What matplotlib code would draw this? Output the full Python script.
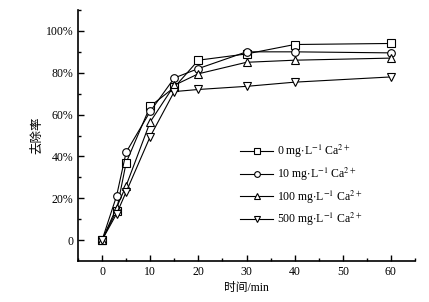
import numpy as np
import matplotlib
matplotlib.use("Agg")
import matplotlib.pyplot as plt
from matplotlib.ticker import MultipleLocator, FixedLocator

plt.rcParams['font.family'] = ['Liberation Serif', 'Noto Sans CJK SC']
plt.rcParams['mathtext.fontset'] = 'stix'

# Data (removal rate, %)
time = [0, 3, 5, 10, 15, 20, 30, 40, 60]
ca0 = [0, 14, 37, 64, 73, 86, 89, 93.5, 94]
ca10 = [0, 21, 42, 61.5, 77.5, 82, 90, 90, 89.5]
ca100 = [0, 15.5, 26, 56.5, 74, 79.5, 85, 86, 87]
ca500 = [0, 12.5, 23, 49.5, 71, 72, 73.5, 75.5, 78]

labels = [r'0 mg$\cdot$L$^{-1}$ Ca$^{2+}$',
          r'10 mg$\cdot$L$^{-1}$ Ca$^{2+}$',
          r'100 mg$\cdot$L$^{-1}$ Ca$^{2+}$',
          r'500 mg$\cdot$L$^{-1}$ Ca$^{2+}$']
markers = ['s', 'o', '^', 'v']
series = [ca0, ca10, ca100, ca500]

fig = plt.figure(figsize=(4.29, 3.02), dpi=100)
ax = fig.add_axes([78/429, 41/302, 337/429, 251/302])

for y, m, lab in zip(series, markers, labels):
    ax.plot(time, y, color='black', lw=0.8, marker=m, ms=5.5,
            mfc='white', mec='black', mew=0.8, label=lab)

ax.set_xlim(-5, 65)
ax.set_ylim(-10, 110)
ax.xaxis.set_major_locator(MultipleLocator(10))
ax.xaxis.set_minor_locator(MultipleLocator(5))
ax.yaxis.set_major_locator(FixedLocator([0, 20, 40, 60, 80, 100]))
ax.yaxis.set_minor_locator(FixedLocator([10, 30, 50, 70, 90, 110]))
ax.set_yticklabels(['0', '20%', '40%', '60%', '80%', '100%'])

for s in ['top', 'right']:
    ax.spines[s].set_visible(False)
for s in ['left', 'bottom']:
    ax.spines[s].set_linewidth(1.2)

ax.tick_params(which='both', direction='in', labelsize=8.5, width=1.0)
ax.tick_params(which='major', length=4)
ax.tick_params(which='minor', length=2.5)

ax.set_xlabel('时间/min', fontsize=8.5, labelpad=3)
ax.set_ylabel('去除率', fontsize=9, labelpad=2)

ax.legend(loc='upper left', bbox_to_anchor=(240/429, 1 - 143/302),
          bbox_transform=fig.transFigure, frameon=False, fontsize=8.5,
          handlelength=2.8, labelspacing=0.45, handletextpad=0.3,
          markerscale=0.75, borderaxespad=0, borderpad=0)

fig.savefig('out.png', dpi=100)
